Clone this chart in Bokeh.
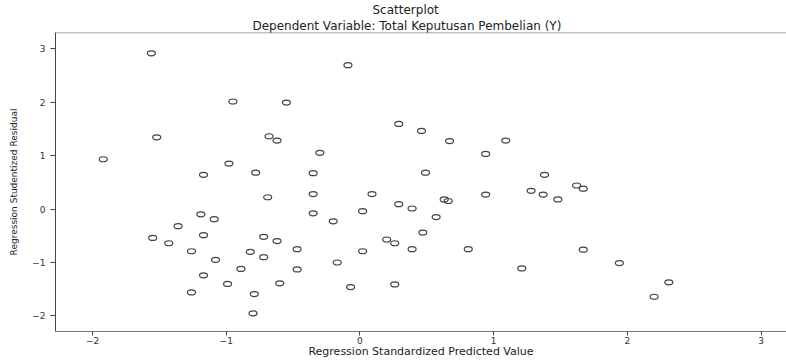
from bokeh.plotting import figure
from bokeh.models import Range1d, FixedTicker, Title, ColumnDataSource, Span
from bokeh.embed import file_html
from bokeh.resources import INLINE

# Regression Standardized Predicted Value
pred = [-1.56, -0.09, -0.95, -0.55, 0.29, 0.46, -1.52, -0.68, -0.62, -1.92,
        -0.30, -0.98, -1.17, -0.78, -0.35, 0.49, -0.69, -0.35, 0.09, 0.29,
        0.39, 0.02, -0.35, -0.20, -1.19, -1.09, -1.36, -1.55, -1.43, -1.17,
        -0.72, -0.62, -1.26, -0.82, -0.72, -0.47, -1.08, 0.20, 0.26, 0.47,
        0.39, 0.02, -0.17, -0.89, -0.47, -1.17, -0.99, -0.60, -0.07, 0.26,
        -1.26, -0.79, -0.80, 0.67, 1.09, 0.94, 1.38, 1.28, 1.37, 1.48,
        1.62, 1.67, 0.94, 0.63, 0.66, 0.57, 0.81, 1.67, 1.21, 1.94,
        2.31, 2.20]
# Regression Studentized Residual
resid = [2.91, 2.69, 2.01, 1.99, 1.59, 1.46, 1.34, 1.36, 1.28, 0.93,
         1.05, 0.85, 0.64, 0.68, 0.67, 0.68, 0.22, 0.28, 0.28, 0.09,
         0.01, -0.04, -0.08, -0.23, -0.10, -0.19, -0.32, -0.54, -0.64, -0.49,
         -0.52, -0.60, -0.79, -0.80, -0.90, -0.75, -0.95, -0.57, -0.64, -0.44,
         -0.75, -0.79, -1.00, -1.12, -1.13, -1.24, -1.40, -1.39, -1.46, -1.41,
         -1.56, -1.59, -1.95, 1.27, 1.28, 1.03, 0.64, 0.34, 0.27, 0.18,
         0.44, 0.38, 0.27, 0.18, 0.15, -0.15, -0.75, -0.76, -1.11, -1.01,
         -1.37, -1.64]

x_ticks = [-2, -1, 0, 1, 2, 3]
y_ticks = [-2, -1, 0, 1, 2, 3]

FONT = "DejaVu Sans"

p = figure(width=786, height=360, output_backend="svg", toolbar_location=None,
           x_range=Range1d(-2.277, 3.19), y_range=Range1d(-2.29, 3.30),
           min_border_left=55, min_border_right=0, min_border_top=0,
           min_border_bottom=0, title=None)

p.outline_line_color = None
p.xgrid.visible = False
p.ygrid.visible = False
p.background_fill_color = "white"
p.border_fill_color = "white"

xb = p.below[0]
yl = p.left[0]
for ax in (xb, yl):
    ax.axis_line_color = "#444"
    ax.major_tick_line_color = "#444"
    ax.minor_tick_line_color = None
    ax.major_tick_in = 0
    ax.major_tick_out = 5
    ax.major_label_text_font = FONT
    ax.major_label_text_color = "#333"
    ax.major_label_text_font_size = "9px"
    ax.axis_label_text_font = FONT
    ax.axis_label_text_font_style = "normal"
    ax.axis_label_text_color = "#222"

xb.axis_line_color = "#777"
xb.major_tick_out = 4
xb.ticker = FixedTicker(ticks=x_ticks)
yl.ticker = FixedTicker(ticks=y_ticks)
xb.major_label_standoff = 1
yl.major_label_standoff = 5
xb.axis_label = "Regression Standardized Predicted Value"
yl.axis_label = "Regression Studentized Residual"
xb.axis_label_text_font_size = "11px"
yl.axis_label_text_font_size = "9px"
xb.axis_label_standoff = -2
yl.axis_label_standoff = 10

# frame top border line
p.add_layout(Span(location=p.y_range.end, dimension="width",
                  line_color="#888", line_width=1.5))

p.add_layout(Title(text="Dependent Variable: Total Keputusan Pembelian (Y)",
                   align="left", offset=197, standoff=0,
                   text_font=FONT, text_font_size="12px",
                   text_font_style="normal", text_color="#222"), "above")
p.add_layout(Title(text="Scatterplot", align="left", offset=317, standoff=0,
                   text_font=FONT, text_font_size="12px",
                   text_font_style="normal", text_color="#222"), "above")

src = ColumnDataSource(dict(x=pred, y=resid))
p.ellipse(x="x", y="y", width=8, height=5, width_units="screen",
          height_units="screen", source=src, fill_color=None,
          line_color="#444", line_width=1.2)

open("out.html", "w").write(file_html(p, INLINE))
